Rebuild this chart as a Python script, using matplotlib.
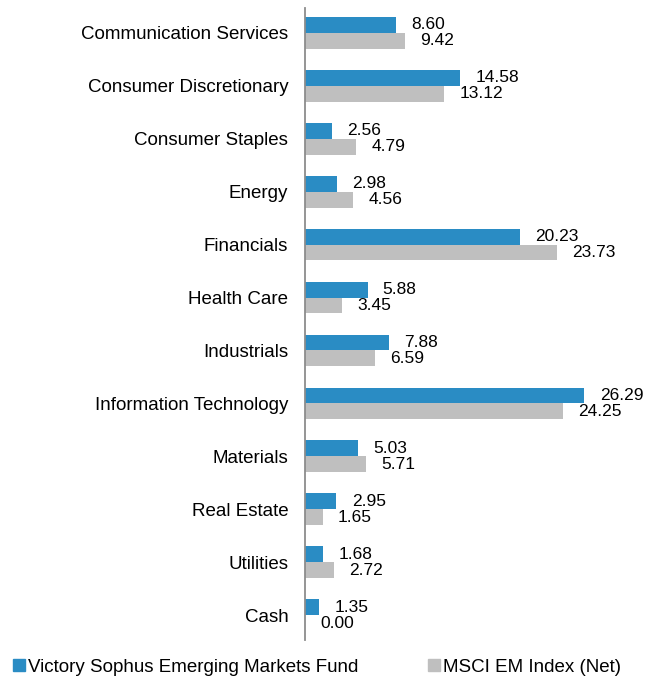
import numpy as np
import matplotlib.pyplot as plt
from matplotlib.patches import Patch

plt.rcParams['font.family'] = ['Liberation Sans', 'DejaVu Sans']

sectors = ['Communication Services', 'Consumer Discretionary', 'Consumer Staples',
           'Energy', 'Financials', 'Health Care', 'Industrials',
           'Information Technology', 'Materials', 'Real Estate', 'Utilities', 'Cash']
fund = [8.60, 14.58, 2.56, 2.98, 20.23, 5.88, 7.88, 26.29, 5.03, 2.95, 1.68, 1.35]
index = [9.42, 13.12, 4.79, 4.56, 23.73, 3.45, 6.59, 24.25, 5.71, 1.65, 2.72, 0.00]

fund_name = 'Victory Sophus Emerging Markets Fund'
index_name = 'MSCI EM Index (Net)'

blue = '#2a8cc4'
gray = '#bfbfbf'

fig = plt.figure(figsize=(6.55, 6.79), dpi=100)
ax = fig.add_axes([305 / 655, 1 - 640 / 679, 345 / 655, 632 / 679])

y = np.arange(len(sectors))
h = 0.30
ax.barh(y - h / 2, fund, height=h, color=blue)
ax.barh(y + h / 2, index, height=h, color=gray)

# etiquettes de valeur
for yi, v in zip(y, fund):
    ax.annotate(f'{v:.2f}', (v, yi - h / 2), xytext=(11, 0), textcoords='offset points',
                ha='left', va='center', fontsize=12.5)
for yi, v in zip(y, index):
    ax.annotate(f'{v:.2f}', (v, yi + h / 2), xytext=(11, 0), textcoords='offset points',
                ha='left', va='center', fontsize=12.5)

ax.set_xlim(0, 345 / 10.63)
ax.set_ylim(len(sectors) - 1 + 0.47, -0.47)
ax.set_yticks(y)
ax.set_yticklabels(sectors, fontsize=13.5)
ax.tick_params(axis='y', length=0, pad=12)
ax.set_xticks([])
for s in ['top', 'right', 'bottom']:
    ax.spines[s].set_visible(False)
ax.spines['left'].set_color('#8c8c8c')
ax.spines['left'].set_linewidth(1.3)

handles = [Patch(color=blue, label=fund_name), Patch(color=gray, label=index_name)]
fig.legend(handles=handles, loc='center left', bbox_to_anchor=(0.0, 1 - 667 / 679),
           ncol=2, frameon=False, fontsize=13.5, handlelength=0.65, handleheight=0.65,
           handletextpad=0.15, columnspacing=3.7, borderaxespad=0.3)

fig.savefig('out.png', dpi=100)
